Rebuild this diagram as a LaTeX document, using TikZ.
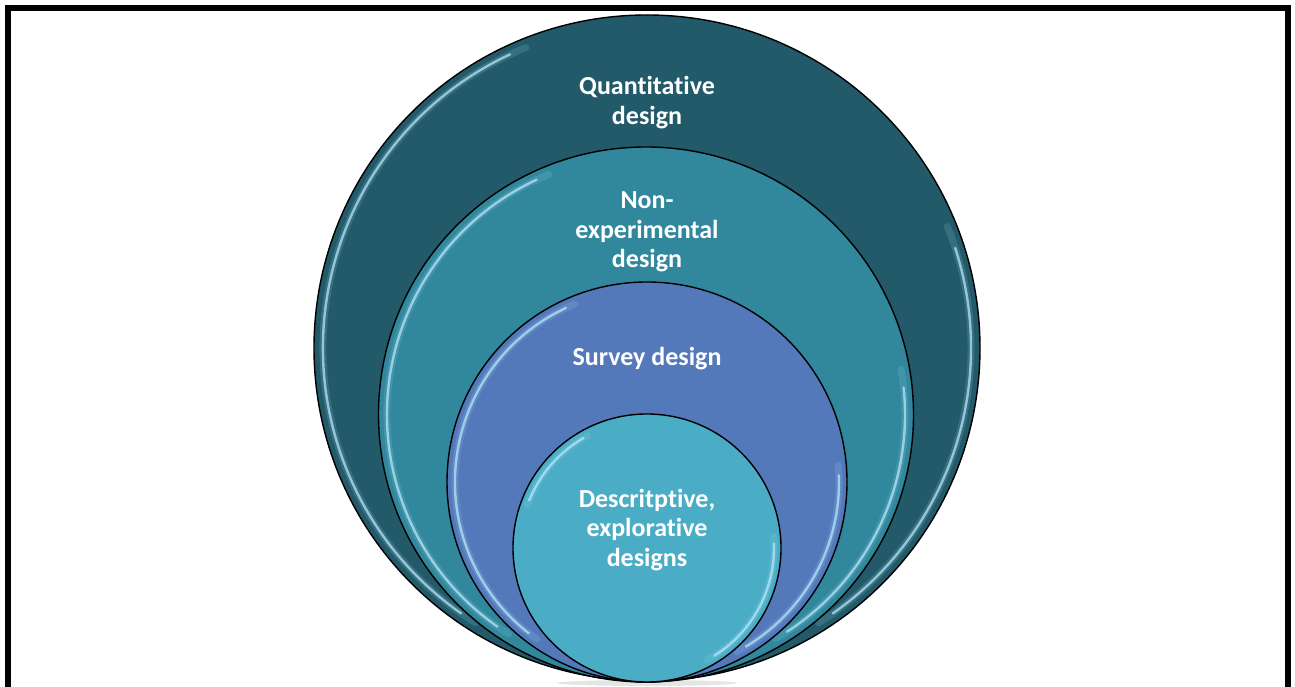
\documentclass[tikz,border=0pt]{standalone}
\usepackage{fontspec}
\setmainfont[Ligatures=NoCommon,RawFeature={-calt}]{Carlito}
\begin{document}
\begin{tikzpicture}[x=1pt,y=1pt,
  ring/.style={circle, draw=black, line width=1.4pt, inner sep=0pt, outer sep=0pt},
  lbl/.style={text=white, align=center, font=\fontsize{26}{29.5}\selectfont\bfseries},
  hl/.style={line width=2.4pt, draw=cyan!25!white, opacity=0.7, line cap=round},
  hlsoft/.style={line width=7pt, draw=cyan!40!white, opacity=0.16, line cap=round}]
\definecolor{cQ}{RGB}{34,90,105}
\definecolor{cN}{RGB}{49,135,156}
\definecolor{cS}{RGB}{84,121,187}
\definecolor{cD}{RGB}{74,172,197}
\useasboundingbox (0,0) rectangle (1295,687);
\fill[white] (0,0) rectangle (1295,687);
% frame
\draw[line width=6pt] (8,-10) -- (8,679) -- (1288,679) -- (1288,-10);
% soft shadow
\fill[black, opacity=0.10] (647,4) ellipse (90pt and 3pt);
% circles
\node[ring, fill=cQ, minimum size=666pt] (q) at (647,339) {};
\draw[hlsoft] (q.center) ++(112:324) arc[start angle=112, end angle=238, radius=324];
\draw[hl] (q.center) ++(115:324) arc[start angle=115, end angle=235, radius=324];
\draw[hlsoft] (q.center) ++(-58:324) arc[start angle=-58, end angle=22, radius=324];
\draw[hl] (q.center) ++(-55:324) arc[start angle=-55, end angle=18, radius=324];
\node[ring, fill=cN, minimum size=535pt] (n) at (646,272.5) {};
\draw[hlsoft] (n.center) ++(112:259) arc[start angle=112, end angle=238, radius=259];
\draw[hl] (n.center) ++(115:259) arc[start angle=115, end angle=235, radius=259];
\draw[hlsoft] (n.center) ++(-60:259) arc[start angle=-60, end angle=10, radius=259];
\draw[hl] (n.center) ++(-57:259) arc[start angle=-57, end angle=6, radius=259];
\node[ring, fill=cS, minimum size=400pt] (s) at (647,205) {};
\draw[hlsoft] (s.center) ++(112:192) arc[start angle=112, end angle=235, radius=192];
\draw[hl] (s.center) ++(115:192) arc[start angle=115, end angle=232, radius=192];
\draw[hlsoft] (s.center) ++(-62:192) arc[start angle=-62, end angle=5, radius=192];
\draw[hl] (s.center) ++(-59:192) arc[start angle=-59, end angle=2, radius=192];
\node[ring, fill=cD, minimum size=268pt] (d) at (647,139) {};
\draw[hlsoft] (d.center) ++(118:127) arc[start angle=118, end angle=160, radius=127];
\draw[hl] (d.center) ++(120:127) arc[start angle=120, end angle=158, radius=127];
\draw[hlsoft] (d.center) ++(-62:127) arc[start angle=-62, end angle=5, radius=127];
\draw[hl] (d.center) ++(-58:127) arc[start angle=-58, end angle=2, radius=127];
% labels
\node[lbl] (tq) at (647,584.5) {Quant\kern0pt itat\kern0pt ive\\design};
\node[lbl] (tn) at (647,455) {Non-\\experimental\\design};
\node[lbl] (ts) at (647,328) {Survey design};
\node[lbl] (td) at (647,157) {Descritpt\kern0pt ive,\\explorat\kern0pt ive\\designs};
\end{tikzpicture}
\end{document}
